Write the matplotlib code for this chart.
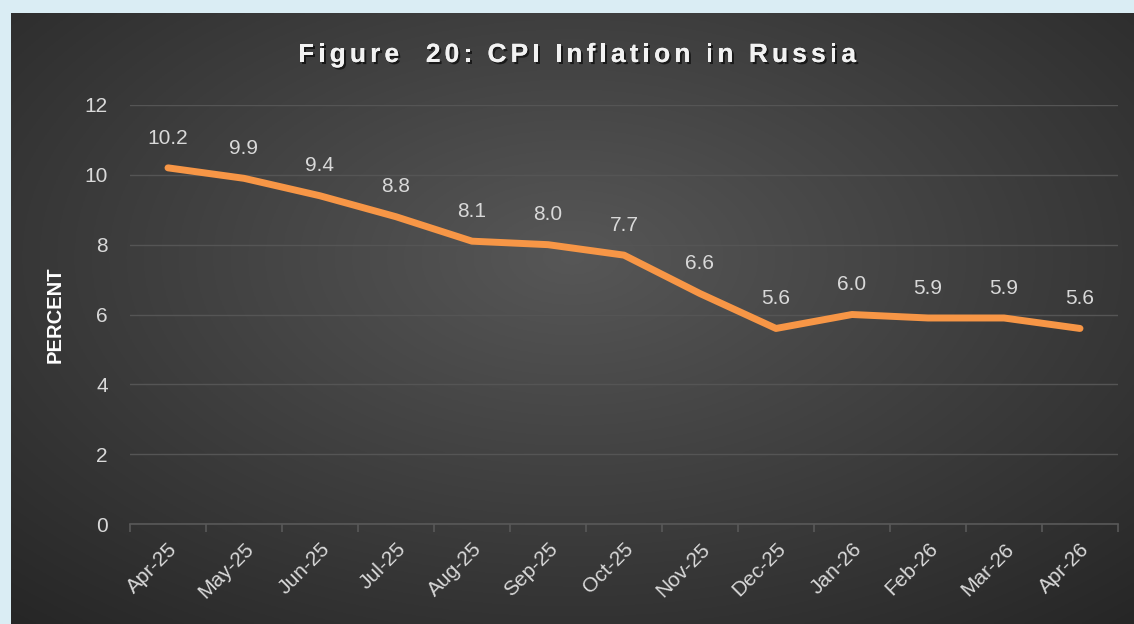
import matplotlib.pyplot as plt
import matplotlib.patheffects as pe
import numpy as np

months = ["Apr-25", "May-25", "Jun-25", "Jul-25", "Aug-25", "Sep-25", "Oct-25",
          "Nov-25", "Dec-25", "Jan-26", "Feb-26", "Mar-26", "Apr-26"]
cpi = [10.2, 9.9, 9.4, 8.8, 8.1, 8.0, 7.7, 6.6, 5.6, 6.0, 5.9, 5.9, 5.6]

plt.rcParams["font.family"] = ["Liberation Sans", "DejaVu Sans"]

W, H = 1134, 624
fig = plt.figure(figsize=(W / 100, H / 100), dpi=100)
fig.patch.set_facecolor("#daedf4")

# dark panel with radial gradient
bg = fig.add_axes([11 / W, 0, 1 - 11 / W, 1 - 13 / H])
yy, xx = np.mgrid[0:1:300j, 0:1:500j]
r = np.sqrt(((xx - 0.5) / 0.75) ** 2 + ((yy - 0.6) / 0.8) ** 2)
r = np.clip(r, 0, 1)
val = 0.34 - 0.19 * r
img = np.dstack([val, val, val])
bg.imshow(img, extent=[0, 1, 0, 1], aspect="auto", origin="lower")
bg.set_axis_off()

ax = fig.add_axes([130 / W, 1 - 524 / H, (1118 - 130) / W, (524 - 105) / H])
ax.patch.set_alpha(0)
x = np.arange(len(months))
ax.plot(x, cpi, color="#f79646", lw=5, solid_capstyle="round", solid_joinstyle="round")
for xi, v in zip(x, cpi):
    ax.annotate(f"{v:.1f}", (xi, v), xytext=(0, 17.5), textcoords="offset points",
                ha="center", va="baseline", color="#d9d9d9", fontsize=15)

ax.set_xlim(-0.5, len(months) - 0.5)
ax.set_ylim(0, 12)
ax.set_yticks(range(0, 13, 2))
ax.set_xticks(x)
ax.set_xticklabels(months, rotation=45, ha="right", rotation_mode="anchor")
ax.set_xticks(np.arange(-0.5, len(months)), minor=True)
ax.tick_params(axis="x", which="major", length=0, pad=11, colors="#d9d9d9", labelsize=15)
ax.tick_params(axis="x", which="minor", length=6, color="#595959", width=1.2, direction="out")
ax.tick_params(axis="y", length=0, pad=16, colors="#d9d9d9", labelsize=15)
ax.grid(axis="y", color="#555555", lw=1)
ax.set_axisbelow(True)
for s in ["top", "right", "left"]:
    ax.spines[s].set_visible(False)
ax.spines["bottom"].set_color("#595959")
ax.spines["bottom"].set_linewidth(1.2)
ax.set_ylabel("PERCENT", color="#ffffff", fontsize=14.5, fontweight="bold", labelpad=14)

# letter-spaced title with shadow
title = "Figure  20: CPI Inflation in Russia"
fig.canvas.draw()
renderer = fig.canvas.get_renderer()
fs = 19
widths = []
for ch in title:
    t = fig.text(0, 0, ch if ch != " " else "n", fontsize=fs, fontweight="bold")
    w = t.get_window_extent(renderer).width
    if ch == " ":
        w *= 0.45
    widths.append(w)
    t.remove()
spacing = (558 - sum(widths)) / (len(title) - 1)
x0 = 298
shadow = [pe.withSimplePatchShadow(offset=(1.5, -1.5), shadow_rgbFace="black", alpha=0.6), pe.Normal()]
for ch, w in zip(title, widths):
    if ch != " ":
        fig.text(x0 / W, 1 - 62 / H, ch, fontsize=fs, fontweight="bold", color="#f2f2f2",
                 ha="left", va="baseline", path_effects=shadow)
    x0 += w + spacing

fig.savefig("out.png", dpi=100, facecolor=fig.get_facecolor())
